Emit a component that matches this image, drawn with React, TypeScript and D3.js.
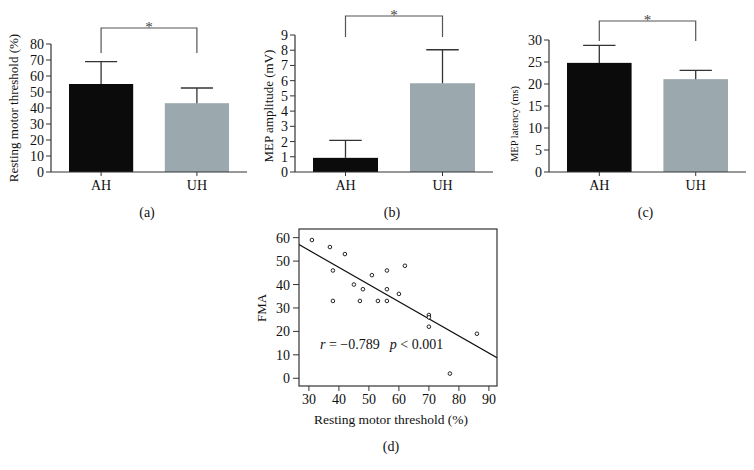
import React from "react";
import * as d3 from "d3";

// ---------- data ----------
const groups = ["AH", "UH"];
const rmtMean = [55, 43];
const rmtSD = [14, 9.5];
const ampMean = [0.93, 5.83];
const ampSD = [1.15, 2.2];
const latMean = [24.8, 21.1];
const latSD = [4.0, 2.0];

const rmtTicks = [0, 10, 20, 30, 40, 50, 60, 70, 80];
const ampTicks = [0, 1, 2, 3, 4, 5, 6, 7, 8, 9];
const latTicks = [0, 5, 10, 15, 20, 25, 30];

const scatterRMT = [31, 37, 42, 38, 38, 45, 48, 47, 51, 53, 56, 56, 56, 60, 62, 70, 70, 70, 77, 86];
const scatterFMA = [59, 56, 53, 46, 33, 40, 38, 33, 44, 33, 46, 38, 33, 36, 48, 27, 26, 22, 2, 19];
const scatterXTicks = [30, 40, 50, 60, 70, 80, 90];
const scatterYTicks = [0, 10, 20, 30, 40, 50, 60];

const FONT = "'Liberation Serif', 'Times New Roman', serif";
const AXIS = "#333";
const COLORS = ["#0b0b0b", "#9ba8ae"];

type BarProps = {
  x0: number; x1: number; yTop: number; yZero: number;
  ticks: number[]; means: number[]; sds: number[];
  yLabel: string; labelX: number; labelY: number; labelSize: number;
  bracketY: number; bracketBottom: number; panel: string;
};

function BarPanel(p: BarProps) {
  const x = d3.scaleBand<string>().domain(groups).range([p.x0 + 18, p.x1 - 18]).paddingInner(0.33).paddingOuter(0);
  const y = d3.scaleLinear().domain([0, p.ticks[p.ticks.length - 1]]).range([p.yZero, p.yTop]);
  const bw = x.bandwidth();
  const cx = (g: string) => (x(g) as number) + bw / 2;
  const midX = (p.x0 + p.x1) / 2;
  return (
    <g fontFamily={FONT}>
      {groups.map((g, i) => (
        <g key={g}>
          <rect x={x(g)} y={y(p.means[i])} width={bw} height={p.yZero - y(p.means[i])} fill={COLORS[i]} />
          <line x1={cx(g)} x2={cx(g)} y1={y(p.means[i])} y2={y(p.means[i] + p.sds[i])} stroke={AXIS} strokeWidth={1.3} />
          <line x1={cx(g) - bw / 4} x2={cx(g) + bw / 4} y1={y(p.means[i] + p.sds[i])} y2={y(p.means[i] + p.sds[i])} stroke={AXIS} strokeWidth={1.3} />
          <line x1={cx(g)} x2={cx(g)} y1={p.yZero} y2={p.yZero + 4} stroke={AXIS} strokeWidth={1} />
          <text x={cx(g)} y={p.yZero + 18} fontSize={14} textAnchor="middle" fill="#111">{g}</text>
        </g>
      ))}
      <line x1={p.x0} x2={p.x1} y1={p.yZero} y2={p.yZero} stroke={AXIS} strokeWidth={1.2} />
      <line x1={p.x0} x2={p.x0} y1={p.yZero} y2={p.yTop} stroke={AXIS} strokeWidth={1.2} />
      {p.ticks.map((t) => (
        <g key={t}>
          <line x1={p.x0 - 5} x2={p.x0} y1={y(t)} y2={y(t)} stroke={AXIS} strokeWidth={1} />
          <text x={p.x0 - 7} y={y(t) + 5} fontSize={14} textAnchor="end" fill="#111">{t}</text>
        </g>
      ))}
      <text transform={`translate(${p.labelX},${p.labelY}) rotate(-90)`} fontSize={p.labelSize} textAnchor="middle" fill="#111">{p.yLabel}</text>
      <path d={`M${cx(groups[0])},${p.bracketBottom}V${p.bracketY}H${cx(groups[1])}V${p.bracketBottom}`} fill="none" stroke="#555" strokeWidth={1.2} />
      <text x={(cx(groups[0]) + cx(groups[1])) / 2} y={p.bracketY + 4} fontSize={15} textAnchor="middle" fill="#444">*</text>
      <text x={midX - 2} y={217} fontSize={14} textAnchor="middle" fill="#111">{p.panel}</text>
    </g>
  );
}

function ScatterPanel() {
  const left = 299, right = 497, top = 229, bottom = 386;
  const x = d3.scaleLinear().domain([26.7, 92.7]).range([left, right]);
  const y = d3.scaleLinear().domain([-3.3, 63.7]).range([bottom, top]);
  const mx = d3.mean(scatterRMT) as number;
  const my = d3.mean(scatterFMA) as number;
  let sxy = 0, sxx = 0;
  scatterRMT.forEach((v, i) => { sxy += (v - mx) * (scatterFMA[i] - my); sxx += (v - mx) * (v - mx); });
  const slope = sxy / sxx;
  const icpt = my - slope * mx;
  const [d0, d1] = x.domain();
  return (
    <g fontFamily={FONT}>
      <defs>
        <clipPath id="box"><rect x={left} y={top} width={right - left} height={bottom - top} /></clipPath>
      </defs>
      <rect x={left} y={top} width={right - left} height={bottom - top} fill="none" stroke={AXIS} strokeWidth={1.2} />
      <line clipPath="url(#box)" x1={x(d0)} y1={y(icpt + slope * d0)} x2={x(d1)} y2={y(icpt + slope * d1)} stroke="#111" strokeWidth={1.2} />
      {scatterRMT.map((v, i) => (
        <circle key={i} cx={x(v)} cy={y(scatterFMA[i])} r={1.8} fill="#fff" stroke="#222" strokeWidth={1} />
      ))}
      {scatterXTicks.map((t) => (
        <g key={t}>
          <line x1={x(t)} x2={x(t)} y1={bottom} y2={bottom + 5} stroke={AXIS} strokeWidth={1} />
          <text x={x(t)} y={bottom + 18} fontSize={14} textAnchor="middle" fill="#111">{t}</text>
        </g>
      ))}
      {scatterYTicks.map((t) => (
        <g key={t}>
          <line x1={left - 6} x2={left} y1={y(t)} y2={y(t)} stroke={AXIS} strokeWidth={1} />
          <text x={left - 9} y={y(t) + 5} fontSize={14} textAnchor="end" fill="#111">{t}</text>
        </g>
      ))}
      <text transform={`translate(266,308) rotate(-90)`} fontSize={13} textAnchor="middle" fill="#111">FMA</text>
      <text x={391} y={424} fontSize={13.5} textAnchor="middle" fill="#111">Resting motor threshold (%)</text>
      <text x={391} y={451} fontSize={14} textAnchor="middle" fill="#111">(d)</text>
      <text x={320} y={349} fontSize={14} fill="#111">
        <tspan fontStyle="italic">r</tspan>
        <tspan> = −0.789</tspan>
        <tspan dx={10} fontStyle="italic">p</tspan>
        <tspan> &lt; 0.001</tspan>
      </text>
    </g>
  );
}

export default function App() {
  return (
    <svg width={754} height={470} viewBox="0 0 754 470" style={{ display: "block", background: "#fff", margin: -8 }}>
      <rect width={754} height={470} fill="#fff" />
      <BarPanel x0={51} x1={247} yTop={44} yZero={172} ticks={rmtTicks} means={rmtMean} sds={rmtSD}
        yLabel="Resting motor threshold (%)" labelX={18} labelY={108} labelSize={13}
        bracketY={28} bracketBottom={53} panel="(a)" />
      <BarPanel x0={295} x1={493} yTop={35} yZero={172} ticks={ampTicks} means={ampMean} sds={ampSD}
        yLabel="MEP amplitude (mV)" labelX={273} labelY={106} labelSize={13}
        bracketY={16} bracketBottom={37} panel="(b)" />
      <BarPanel x0={549} x1={746} yTop={40} yZero={172} ticks={latTicks} means={latMean} sds={latSD}
        yLabel="MEP latency (ms)" labelX={518} labelY={124} labelSize={10.5}
        bracketY={21} bracketBottom={41} panel="(c)" />
      <ScatterPanel />
    </svg>
  );
}
